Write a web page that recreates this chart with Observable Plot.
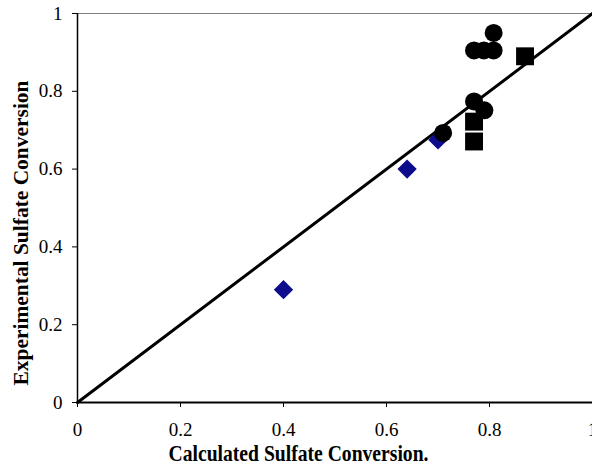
<!DOCTYPE html>
<html><head><meta charset="utf-8">
<script src="https://cdn.jsdelivr.net/npm/d3@7"></script>
<script src="https://cdn.jsdelivr.net/npm/@observablehq/plot@0.6"></script>
<style>html,body{margin:0;padding:0;background:#fff;overflow:hidden}</style>
</head><body><div id="chart"></div>
<script>
// Series 1: blue diamonds
const diamondX = [0.40, 0.64, 0.70];
const diamondY = [0.29, 0.60, 0.675];
// Series 2: black circles
const circleX = [0.71, 0.77, 0.79, 0.808, 0.77, 0.789, 0.808];
const circleY = [0.693, 0.774, 0.751, 0.95, 0.905, 0.905, 0.905];
// Series 3: black squares
const squareX = [0.869, 0.77, 0.77];
const squareY = [0.89, 0.671, 0.722];
// Axis ticks and labels
const tickValues = [0, 0.2, 0.4, 0.6, 0.8, 1];
const tickLabels = ["0", "0.2", "0.4", "0.6", "0.8", "1"];
const xTitle = "Calculated Sulfate Conversion.";
const yTitle = "Experimental Sulfate Conversion";
// Parity (y = x) line
const parity = [0, 1];

const diamonds = diamondX.map((x, i) => ({x, y: diamondY[i]}));
const circles = circleX.map((x, i) => ({x, y: circleY[i]}));
const squares = squareX.map((x, i) => ({x, y: squareY[i]}));
const fmt = d => tickLabels[tickValues.indexOf(d)];

const chart = Plot.plot({
  width: 592,
  height: 472,
  marginLeft: 77,
  marginRight: 0,
  marginTop: 13,
  marginBottom: 70,
  style: {fontFamily: "'Liberation Serif', 'Times New Roman', serif", fontSize: "19px", color: "#000", background: "#fff", overflow: "visible"},
  x: {domain: [0, 1]},
  y: {domain: [0, 1]},
  marks: [
    Plot.ruleY([1], {stroke: "#808080", strokeWidth: 1}),
    Plot.axisX(tickValues, {tickFormat: fmt, tickSize: 5, tickPadding: 15, label: null, fontSize: 19}),
    Plot.axisY(tickValues, {tickFormat: fmt, tickSize: 5, tickPadding: 10, label: null, fontSize: 19}),
    Plot.ruleX([0], {stroke: "#000", strokeWidth: 1.5}),
    Plot.ruleY([0], {stroke: "#000", strokeWidth: 2}),
    Plot.line(parity, {x: d => d, y: d => d, stroke: "#000", strokeWidth: 3}),
    Plot.dot(diamonds, {x: "x", y: "y", symbol: "diamond2", r: 8.7, fill: "#0c0c8c", stroke: "none"}),
    Plot.dot(squares, {x: "x", y: "y", symbol: "square", r: 10.1, fill: "#000", stroke: "none"}),
    Plot.dot(circles, {x: "x", y: "y", symbol: "circle", r: 9, fill: "#000", stroke: "none"}),
    Plot.text([xTitle], {frameAnchor: "bottom", dx: -36.5, dy: 58, textAnchor: "middle", text: d => d, fontWeight: "bold", fontSize: 23, fill: "#000"}),
    Plot.text([yTitle], {frameAnchor: "left", dx: -56.5, dy: 25, rotate: -90, textAnchor: "middle", text: d => d, fontWeight: "bold", fontSize: 21.5, fill: "#000"})
  ]
});
// Match the reference's condensed title lettering
d3.select(chart).selectAll("text").each(function() {
  if (this.textContent === xTitle) {
    this.setAttribute("textLength", 260);
    this.setAttribute("lengthAdjust", "spacingAndGlyphs");
  } else if (this.textContent === yTitle) {
    this.setAttribute("textLength", 305);
    this.setAttribute("lengthAdjust", "spacingAndGlyphs");
  }
});
document.getElementById("chart").appendChild(chart);
</script>
</body></html>
